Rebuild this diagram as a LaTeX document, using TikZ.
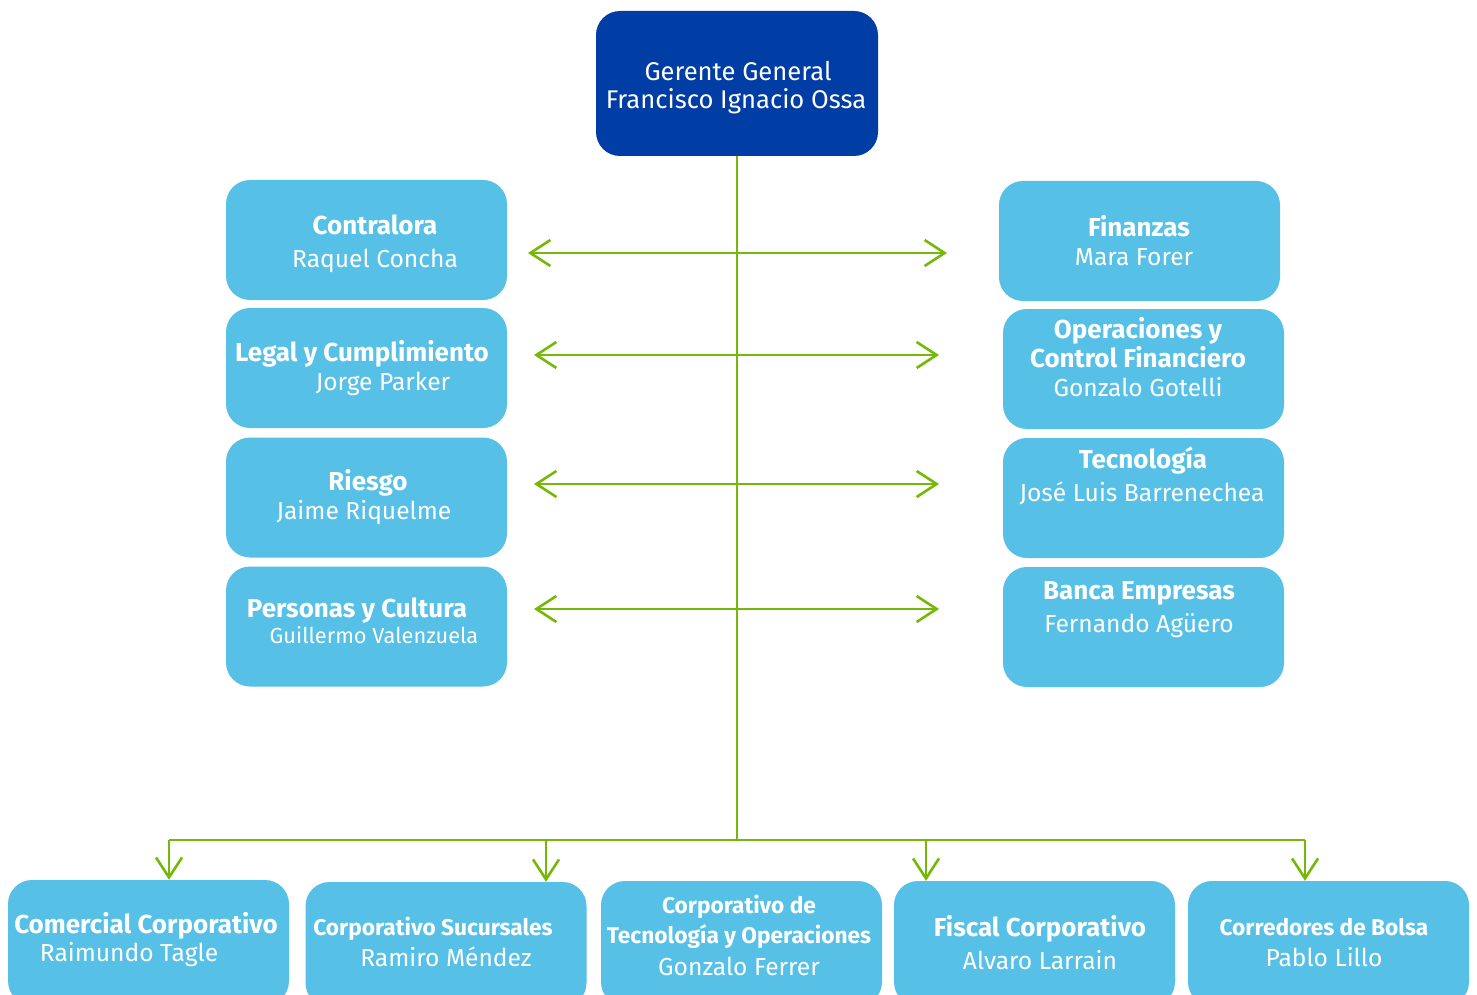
\documentclass[tikz,border=0pt]{standalone}
\usepackage{fontspec}
\setmainfont{Fira Sans}
\usetikzlibrary{arrows.meta}
\definecolor{dblue}{RGB}{0,61,165}
\definecolor{lblue}{RGB}{86,192,230}
\definecolor{lgreen}{RGB}{118,184,8}
\begin{document}
\begin{tikzpicture}[x=1pt,y=-1pt,
  box/.style={draw=none, fill=lblue, rounded corners=24pt, inner sep=0pt, minimum width=281pt, minimum height=120pt},
  topbox/.style={box, fill=dblue, minimum width=282pt, minimum height=145pt},
  bbox/.style={box, minimum height=125pt},
  ttl/.style={text=white, font=\fontsize{26}{30}\selectfont\bfseries, inner sep=0pt, anchor=base},
  ttls/.style={ttl, font=\fontsize{22.7}{27}\selectfont\bfseries},
  nm/.style={text=white, font=\fontsize{24.6}{29}\selectfont, inner sep=0pt, anchor=base},
  conn/.style={draw=lgreen, line width=2.6pt},
  arr/.style={conn, -{Straight Barb[length=20pt,width=26pt,line width=2.6pt]}},
  dbl/.style={conn, {Straight Barb[length=20pt,width=26pt,line width=2.6pt]}-{Straight Barb[length=20pt,width=26pt,line width=2.6pt]}}
]
\useasboundingbox (0,0) rectangle (1477,995);
\clip (0,0) rectangle (1477,995);
\fill[white] (0,0) rectangle (1477,995);

% boxes
\node[topbox] (gg) at (737,83.5) {};
\node[box] (con) at (366.5,240) {};
\node[box] (leg) at (366.5,368) {};
\node[box] (rie) at (366.5,497.5) {};
\node[box] (per) at (366.5,626.5) {};
\node[box] (fin) at (1139.5,241) {};
\node[box] (ope) at (1143.5,369) {};
\node[box] (tec) at (1143.5,498) {};
\node[box] (ban) at (1143.5,627) {};
\node[bbox] (com) at (148.5,942.5) {};
\node[bbox] (suc) at (446,944.5) {};
\node[bbox] (cto) at (741.5,943.5) {};
\node[bbox] (fis) at (1034.5,943.5) {};
\node[bbox] (cor) at (1328.5,943.5) {};

% texts
\node[nm, font=\fontsize{25.6}{30}\selectfont] (gg1) at (738,81) {Gerente General};
\node[nm, font=\fontsize{25.6}{30}\selectfont] (gg2) at (736,109) {Francisco Ignacio Ossa};
\node[ttl] (con1) at (375,234) {Contralora};
\node[nm] (con2) at (375,267) {Raquel Concha};
\node[ttl] (leg1) at (362,361) {Legal y Cumplimiento};
\node[nm] (leg2) at (383,390) {Jorge Parker};
\node[ttl] (rie1) at (368,490) {Riesgo};
\node[nm] (rie2) at (364,519) {Jaime Riquelme};
\node[ttl] (per1) at (357,617) {Personas y Cultura};
\node[nm, font=\fontsize{21.8}{26}\selectfont] (per2) at (374,643) {Guillermo Valenzuela};
\node[ttl] (fin1) at (1139,236) {Finanzas};
\node[nm] (fin2) at (1134,265) {Mara Forer};
\node[ttl] (ope1) at (1138,338) {Operaciones y};
\node[ttl] (ope2) at (1138,367) {Control Financiero};
\node[nm] (ope3) at (1138,396) {Gonzalo Gotelli};
\node[ttl] (tec1) at (1143,468) {Tecnología};
\node[nm] (tec2) at (1142,501) {José Luis Barrenechea};
\node[ttl] (ban1) at (1139,599) {Banca Empresas};
\node[nm] (ban2) at (1139,632) {Fernando Agüero};
\node[ttl] (com1) at (146,933) {Comercial Corporativo};
\node[nm] (com2) at (129,961) {Raimundo Tagle};
\node[ttls] (suc1) at (433,935) {Corporativo Sucursales};
\node[nm] (suc2) at (446,966) {Ramiro Méndez};
\node[ttls] (cto1) at (739,913) {Corporativo de};
\node[ttls] (cto2) at (739,943) {Tecnología y Operaciones};
\node[nm] (cto3) at (739,975) {Gonzalo Ferrer};
\node[ttl] (fis1) at (1040,936) {Fiscal Corporativo};
\node[nm] (fis2) at (1040,969) {Alvaro Larrain};
\node[ttls] (cor1) at (1324,935) {Corredores de Bolsa};
\node[nm] (cor2) at (1324,966) {Pablo Lillo};

% connectors
\coordinate (hub) at (737,840);
\coordinate (hl) at (169,840);
\coordinate (hr) at (1305,840);
\draw[conn] (gg.south) -- (hub);
\draw[conn] (hl) -- (hr);
\coordinate (a1) at (546,840);
\coordinate (a2) at (926,840);
\draw[arr] (hl) -- (hl |- com.north);
\draw[arr] (a1) -- (a1 |- suc.north);
\draw[arr] (a2) -- (a2 |- fis.north);
\draw[arr] (hr) -- (hr |- cor.north);

\coordinate (l1) at (528,253); \coordinate (r1) at (947,253);
\coordinate (l2) at (534,355); \coordinate (r2) at (939,355);
\coordinate (l3) at (534,484); \coordinate (r3) at (939,484);
\coordinate (l4) at (534,609); \coordinate (r4) at (939,609);
\draw[dbl] (l1) -- (r1);
\draw[dbl] (l2) -- (r2);
\draw[dbl] (l3) -- (r3);
\draw[dbl] (l4) -- (r4);
\end{tikzpicture}
\end{document}
